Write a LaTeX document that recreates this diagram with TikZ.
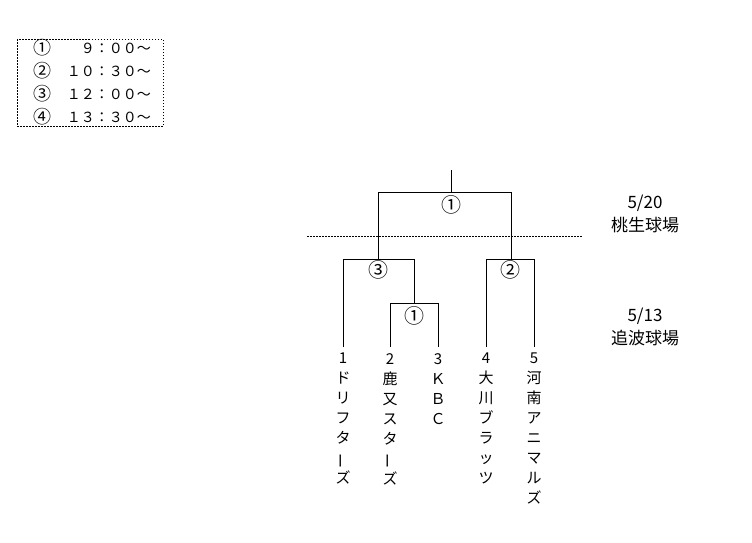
\documentclass[tikz,border=0pt]{standalone}
\usepackage{fontspec}
\setmainfont{Noto Sans CJK JP}
\usepackage{graphicx}
\newcommand{\vchoon}{\rotatebox[origin=c]{90}{ー}}
\begin{document}
\begin{tikzpicture}[x=1pt,y=-1pt,
  br/.style={line width=0.9pt,black},
  dotline/.style={line width=0.8pt,dash pattern=on 1.5pt off 1.5pt},
  circ/.style={font=\fontsize{20}{20}\selectfont,inner sep=0pt},
  team/.style={anchor=north,align=center,inner sep=0pt,font=\fontsize{15}{20}\selectfont},
  venue/.style={align=center,inner sep=0pt,font=\fontsize{17}{23}\selectfont},
  leg/.style={inner sep=0pt,font=\fontsize{14}{14}\selectfont},
  legc/.style={inner sep=0pt,font=\fontsize{18}{18}\selectfont}]
\useasboundingbox (0,0) rectangle (752,542);
% legend
\draw[dotline] (17,39) rectangle (163,126);
\node[legc] (c1) at (42,48) {①};
\node[legc] (c2) at (42,71) {②};
\node[legc] (c3) at (42,94) {③};
\node[legc] (c4) at (42,117) {④};
\node[leg,anchor=east] (t1) at (151,48) {９：００～};
\node[leg,anchor=east] (t2) at (151,71) {１０：３０～};
\node[leg,anchor=east] (t3) at (151,94) {１２：００～};
\node[leg,anchor=east] (t4) at (151,117) {１３：３０～};
% leaf coordinates
\coordinate (L1) at (343,347);
\coordinate (L2) at (390,347);
\coordinate (L3) at (438,347);
\coordinate (L4) at (486,347);
\coordinate (L5) at (534,347);
% match corners
\coordinate (A1) at (390,303); \coordinate (A2) at (438,303); \coordinate (A) at (414,303);
\coordinate (B1) at (343,259); \coordinate (B2) at (414,259); \coordinate (B) at (378,259);
\coordinate (C1) at (486,259); \coordinate (C2) at (534,259); \coordinate (C) at (511,259);
\coordinate (D1) at (378,192); \coordinate (D2) at (511,192); \coordinate (D) at (451,192);
\coordinate (top) at (451,170);
% brackets
\draw[br] (L2) -- (A1) -- (A2) -- (L3);
\draw[br] (A) -- (B2);
\draw[br] (L1) -- (B1) -- (B2);
\draw[br] (L4) -- (C1) -- (C2) -- (L5);
\draw[br] (B) -- (D1) -- (D2) -- (C);
\draw[br] (D) -- (top);
% match labels
\node[circ] (mA) at (414,316) {①};
\node[circ] (mB) at (378,270) {③};
\node[circ] (mC) at (510,270) {②};
\node[circ] (mD) at (451,205) {①};
% venue separator
\draw[dotline] (307,236) -- (582,236);
\node[venue] (v1) at (645,214) {5/20\\桃生球場};
\node[venue] (v2) at (645,327) {5/13\\追波球場};
% teams
\node[team] (T1) at (343,353) {1\\ド\\リ\\フ\\タ\\\vchoon\\ズ};
\node[team] (T2) at (390,353) {2\\鹿\\又\\ス\\タ\\\vchoon\\ズ};
\node[team] (T3) at (438,353) {3\\Ｋ\\Ｂ\\Ｃ};
\node[team] (T4) at (486,353) {4\\大\\川\\ブ\\ラ\\ッ\\ツ};
\node[team] (T5) at (534,353) {5\\河\\南\\ア\\ニ\\マ\\ル\\ズ};
\end{tikzpicture}
\end{document}
